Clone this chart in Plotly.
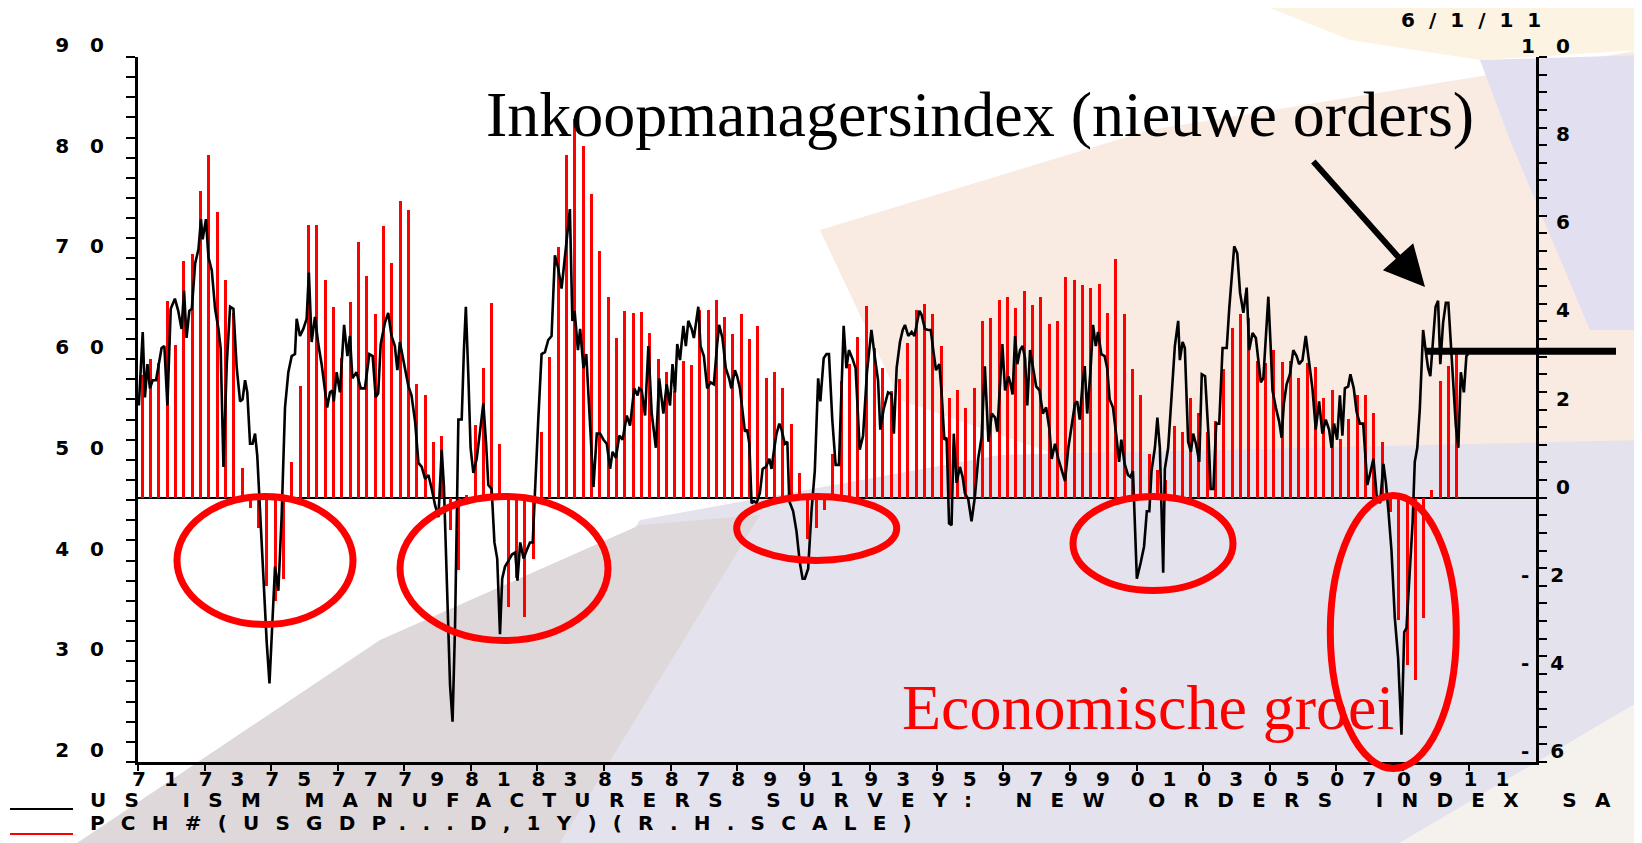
import plotly.graph_objects as go

# ------------------------------------------------------------------ data
# Real GDP, % change on a year earlier, quarterly from 1971Q1 (right scale)
gdp_first_year = 1971
gdp_growth = [
    2.79, 3.15, 3.06, 4.46, 3.47, 5.36, 5.54, 6.96, 7.77, 6.49,
    4.93, 4.19, 0.68, -0.23, -0.68, -2.00, -2.34, -1.85, 0.81, 2.54,
    6.19, 6.19, 4.93, 4.32, 3.18, 4.44, 5.81, 5.03, 4.17, 6.17,
    5.32, 6.74, 6.53, 2.59, 2.32, 1.26, 1.41, -0.74, -1.64, 0.05,
    1.64, 2.95, 4.41, 1.22, -2.48, -1.82, -2.70, -1.40, 1.49, 3.20,
    5.69, 7.77, 8.60, 7.97, 6.89, 5.59, 4.55, 3.63, 4.23, 4.19,
    4.22, 3.74, 3.14, 2.86, 2.43, 3.11, 3.00, 4.26, 4.25, 4.48,
    4.10, 3.71, 4.17, 3.60, 3.89, 2.72, 2.86, 2.48, 1.67, 0.56,
    -0.95, -0.68, -0.27, 1.00, 2.64, 3.04, 3.65, 4.34, 3.40, 2.95,
    2.41, 2.70, 3.51, 4.25, 4.39, 4.17, 3.44, 2.25, 2.45, 2.03,
    2.48, 4.01, 4.07, 4.48, 4.55, 4.30, 4.70, 4.37, 4.55, 3.95,
    4.01, 5.00, 4.95, 4.82, 4.76, 4.84, 4.19, 5.41, 4.17, 2.93,
    2.32, 1.00, 0.63, 0.41, 1.62, 1.49, 2.27, 1.92, 1.49, 1.74,
    2.93, 3.85, 4.16, 4.07, 3.11, 3.05, 3.35, 3.08, 3.11, 2.72,
    3.06, 2.97, 2.25, 2.45, 1.33, 1.78, 2.34, 2.32, 1.92, 1.26,
    -0.32, -2.77, -3.80, -4.13, -2.73, 0.18, 2.64, 2.99, 3.27,
]

# ISM new orders index (left scale): months after Jan 1971 and value, as read
ism_month = [
    0.3, 1.7, 2.5, 3.4, 4.3, 5.3, 6.5, 7.7, 8.5, 9.5,
    10.6, 11.8, 13.3, 14.5, 15.7, 16.6, 17.5, 18.5, 19.4, 20.6,
    21.8, 22.7, 23.3, 24.5, 25.4, 26.6, 27.8, 29.0, 29.8, 30.8,
    32.0, 33.2, 34.4, 35.6, 36.8, 37.7, 38.6, 39.4, 40.4, 41.3,
    42.2, 43.0, 44.0, 45.2, 46.4, 47.4, 48.2, 49.4, 50.6, 51.8,
    53.0, 54.2, 55.4, 56.6, 57.2, 58.4, 59.6, 60.8, 61.6, 62.6,
    63.8, 65.0, 66.2, 67.0, 68.2, 69.2, 70.0, 70.6, 71.6, 72.8,
    74.3, 75.5, 76.4, 77.3, 78.8, 80.3, 81.8, 83.4, 84.6, 85.7,
    86.6, 87.5, 89.0, 90.2,
    91.4, 92.6, 93.5, 94.4, 95.6, 96.6, 97.5, 98.6, 99.9, 101.1,
    102.3, 103.5, 104.7, 105.9, 107.1, 108.3, 109.5, 110.3, 111.3, 112.5,
    113.4, 114.3, 115.5, 116.7, 117.5, 118.2, 119.1, 119.9, 120.9, 122.1,
    123.3, 124.5, 125.5, 126.3, 127.5, 128.5, 129.5, 130.5, 131.3, 132.3,
    133.6, 134.8, 136.0, 136.8, 137.8, 139.0, 140.1, 141.3, 142.3, 143.1,
    144.3, 145.5, 146.7, 147.9, 149.1, 150.3, 151.5, 152.7, 153.5, 154.5,
    155.7, 156.6, 157.4, 158.6, 159.4, 160.6, 161.6, 162.8, 164.2, 165.4,
    166.6, 167.8, 169.0, 170.2, 171.1, 172.3, 173.5, 174.7, 176.2, 177.4,
    178.9, 180.1,
    180.7, 181.6, 182.8, 184.0, 185.2, 186.7, 187.9, 189.4, 190.6, 191.8,
    192.7, 193.6, 194.4, 195.4, 196.6, 197.5, 198.4, 199.6, 200.4, 202.0,
    202.8, 204.0, 205.2, 206.4, 207.6, 208.8, 209.5, 210.7, 211.9, 213.1,
    213.9, 215.2, 216.0, 217.0, 217.9, 218.8, 219.6, 220.4, 221.2, 222.1,
    223.0, 224.2, 225.2, 226.4, 227.6, 228.4, 229.3, 230.2, 231.2, 232.0,
    233.2, 234.1, 234.8, 236.2, 237.4, 238.6, 239.6, 240.4, 241.6, 242.8,
    244.0, 245.2, 246.0, 247.2, 248.2, 249.1, 250.3, 251.5, 252.7, 253.6,
    254.4, 255.4, 256.3, 257.5, 258.7, 260.2, 261.4, 262.8, 264.4, 265.6,
    266.8, 267.6, 268.8, 270.4,
    271.7, 272.5, 273.5, 274.7, 275.7, 276.5, 277.7, 278.9, 279.9, 280.7,
    281.7, 282.5, 283.7, 284.9, 285.8, 286.7, 287.7, 288.9, 289.7, 290.7,
    291.5, 292.4, 293.3, 294.1, 295.1, 296.3, 297.3, 298.1, 299.3, 300.5,
    301.7, 302.9, 304.1, 305.3, 306.6, 307.8, 309.0, 309.8, 310.8, 311.6,
    312.6, 313.8, 314.6, 315.3, 316.2, 317.0, 318.0, 318.9, 319.8, 320.6,
    321.6, 322.6, 323.8, 325.0, 326.2, 327.4, 328.6, 329.4, 330.6, 331.8,
    333.0, 334.2, 335.4, 336.6, 337.8, 338.6, 339.5, 340.5, 341.3, 342.2,
    343.4, 344.3, 345.3, 346.1, 347.3, 348.5, 349.4, 350.3, 351.5, 352.7,
    353.7, 354.5, 355.7, 356.9, 357.8, 358.7, 359.3, 360.1,
    361.5, 362.7, 363.7, 364.6, 365.4, 366.6, 367.5, 368.4, 369.6, 370.2,
    371.4, 372.6, 373.8, 375.0, 375.6, 376.6, 377.4, 378.6, 379.6, 380.4,
    381.4, 382.6, 383.5, 384.7, 385.9, 386.7, 387.7, 388.7, 389.8, 391.0,
    392.5, 393.4, 394.3, 395.2, 396.3, 397.3, 398.5, 399.7, 400.6, 401.8,
    403.0, 403.9, 404.8, 405.7, 406.6, 407.5, 408.3, 409.0, 410.2, 411.4,
    412.3, 413.1, 414.1, 415.3, 416.5, 417.7, 418.6, 419.8, 421.0, 422.2,
    423.4, 424.6, 425.8, 427.0, 428.2, 429.4, 430.3, 431.2, 432.3, 433.3,
    434.2, 435.1, 436.3, 437.1, 438.3, 439.3, 440.5, 441.7, 443.2, 444.4,
    445.4, 446.6, 447.8, 449.0, 449.9, 450.8,
    451.9, 453.1, 454.3, 455.5, 456.5, 457.3, 458.3, 459.5, 460.3, 461.2,
    462.1, 463.3, 464.3, 465.1, 465.9, 466.9, 467.8, 468.7, 469.5, 470.5,
    471.5, 472.4, 473.3, 474.1, 475.1, 476.0, 476.9, 478.0, 478.9, 479.5,
]
ism_value = [
    55.4, 62.7, 56.2, 59.5, 57.1, 57.9, 57.9, 59.9, 61.1, 61.3,
    55.4, 65.0, 66.0, 64.8, 63.0, 66.8, 62.1, 64.8, 65.0, 69.5,
    70.9, 73.9, 71.9, 73.9, 70.1, 68.8, 65.0, 63.0, 61.1, 49.3,
    59.5, 65.2, 65.0, 59.1, 55.8, 56.0, 57.9, 56.7, 51.6, 51.6,
    52.6, 50.4, 44.9, 37.4, 31.9, 27.8, 31.9, 39.4, 37.0, 44.5,
    55.2, 58.7, 60.3, 60.5, 64.0, 62.3, 63.0, 64.0, 68.6, 61.7,
    64.2, 61.5, 59.5, 57.9, 55.2, 56.7, 56.9, 55.8, 58.7, 56.7,
    63.4, 60.3, 62.3, 58.1, 58.7, 57.1, 57.1, 60.5, 60.3, 56.2,
    56.6, 61.5, 63.6, 64.6,
    62.3, 61.3, 58.9, 61.7, 59.9, 58.3, 57.3, 56.4, 53.8, 49.7,
    49.3, 48.1, 48.5, 47.1, 45.5, 44.3, 51.0, 47.3, 37.4, 27.6,
    24.0, 33.5, 54.0, 54.0, 60.9, 65.2, 58.3, 51.2, 48.7, 50.1,
    52.8, 55.6, 51.6, 47.5, 47.1, 41.8, 40.2, 32.7, 38.2, 39.4,
    40.0, 40.6, 40.8, 38.0, 41.8, 40.2, 41.0, 41.8, 41.8, 46.1,
    54.0, 60.5, 60.7, 61.9, 62.3, 70.3, 69.0, 67.0, 69.4, 71.7,
    74.9, 63.8, 64.8, 60.9, 63.0, 59.1, 60.5, 54.0, 47.3, 52.6,
    52.6, 52.0, 51.6, 49.1, 50.8, 50.2, 52.4, 52.0, 54.4, 53.4,
    57.1, 56.4,
    57.1, 56.9, 54.4, 61.3, 54.6, 51.2, 58.1, 54.6, 57.5, 55.4,
    59.5, 56.7, 61.5, 59.9, 63.3, 61.3, 63.8, 63.0, 62.1, 65.2,
    61.3, 60.3, 57.1, 57.7, 57.5, 61.5, 63.4, 62.1, 59.1, 58.1,
    57.1, 58.9, 58.3, 57.1, 54.8, 52.8, 53.0, 51.6, 45.7, 45.9,
    45.7, 46.7, 49.1, 49.3, 50.1, 49.1, 51.0, 52.6, 53.6, 53.0,
    51.6, 51.8, 45.9, 44.9, 42.9, 39.8, 38.2, 38.2, 39.2, 44.9,
    48.9, 58.1, 55.8, 60.1, 60.5, 60.5, 54.0, 49.5, 49.5, 57.1,
    63.3, 59.1, 60.9, 60.1, 59.1, 51.0, 52.4, 58.7, 62.9, 60.3,
    57.9, 53.0, 55.0, 56.7,
    56.5, 52.6, 59.1, 61.7, 62.9, 63.4, 62.3, 62.7, 62.3, 63.4,
    64.8, 64.4, 63.0, 62.9, 62.9, 60.9, 58.9, 59.5, 56.7, 52.0,
    52.2, 43.7, 43.5, 52.6, 47.7, 49.3, 48.3, 46.7, 46.1, 43.9,
    46.3, 50.1, 52.2, 59.3, 51.8, 54.6, 54.2, 52.8, 58.3, 61.5,
    56.9, 58.3, 57.5, 56.5, 62.3, 59.5, 60.9, 61.3, 60.1, 55.4,
    60.9, 59.1, 57.3, 56.9, 54.6, 55.2, 53.0, 50.1, 51.6, 50.1,
    48.9, 47.9, 51.2, 53.6, 55.6, 55.8, 54.0, 57.5, 59.3, 54.6,
    58.9, 63.4, 61.3, 62.7, 60.5, 60.3, 59.1, 56.0, 55.2, 52.4,
    49.8, 52.0, 49.6, 48.5, 48.3, 48.9, 43.7, 38.2,
    39.8, 41.4, 44.9, 44.9, 48.9, 51.2, 54.2, 51.2, 38.8, 49.1,
    51.2, 56.7, 61.3, 63.8, 59.9, 61.7, 61.1, 51.8, 50.8, 52.6,
    51.6, 49.8, 58.5, 58.3, 52.6, 47.1, 47.1, 53.6, 53.6, 61.1,
    61.1, 65.0, 68.0, 71.2, 70.5, 66.6, 64.6, 67.1, 60.9, 62.6,
    62.1, 59.7, 57.7, 58.1, 61.9, 66.2, 61.5, 56.9, 55.2, 53.8,
    52.2, 55.6, 57.5, 58.5, 60.9, 60.3, 59.5, 59.9, 62.3, 59.9,
    57.1, 53.0, 55.8, 52.6, 54.0, 53.0, 51.2, 53.6, 52.0, 56.4,
    52.4, 57.1, 57.3, 58.5, 57.1, 54.8, 53.6, 53.6, 47.5, 48.9,
    50.1, 46.3, 45.7, 49.6, 47.7, 44.9,
    41.0, 34.3, 30.3, 22.7, 32.9, 33.3, 38.2, 43.7, 49.8, 51.2,
    55.0, 62.9, 60.7, 59.1, 58.3, 62.1, 65.2, 65.8, 59.5, 63.6,
    65.6, 65.6, 61.5, 56.9, 53.4, 51.2, 58.7, 56.7, 60.3, 60.5,
]

x_tick_years = list(range(1971, 2012, 2))
x_tick_labels = ["71", "73", "75", "77", "79", "81", "83", "85", "87", "89", "91",
                 "93", "95", "97", "99", "01", "03", "05", "07", "09", "11"]
left_ticks = [20, 30, 40, 50, 60, 70, 80, 90]
right_ticks = [-6, -4, -2, 0, 2, 4, 6, 8, 10]
level_line_value = 3.32   # thick black reference level, right scale

title_text = "Inkoopmanagersindex (nieuwe orders)"
growth_text = "Economische groei"
date_text = "6/1/11"
legend_texts = ["US ISM MANUFACTURERS SURVEY: NEW ORDERS INDEX SA",
                "PCH#(USGDP...D,1Y)(R.H.SCALE)"]

# ------------------------------------------------------------------ geometry
# The page body adds an 8px offset; the figure is sized so that the plot area
# lands on screen at x 138..1536, y 57..762.
OFF = 8
W, H = 1642 - OFF, 843 - OFF
L, R, T, B = 138, 1536, 57, 762          # screen pixels


def px(X):
    return (X - L) / (R - L)


def py(Y):
    return (B - Y) / (B - T)


def wide(s, ls):
    return "<span style='letter-spacing:%gpx'>%s</span>" % (ls, s)


def poly(points):
    return "M " + " L ".join("%.4f,%.4f" % (px(a), py(b)) for a, b in points) + " Z"


AX_FONT = dict(family="DejaVu Sans", size=20, color="black", weight="bold")
LEG_FONT = dict(family="DejaVu Sans", size=20, color="black", weight="bold")
LS_Y = 21
LS_X = 18
FIG = "\u2007"

# ------------------------------------------------------------------ traces
bar_x = [gdp_first_year + (k + 0.5) / 4 for k in range(len(gdp_growth))]
ism_x = [1971 + m / 12 for m in ism_month]

fig = go.Figure()
fig.add_trace(go.Bar(x=bar_x, y=gdp_growth, width=0.09, yaxis="y",
                     marker=dict(color="#FF0000", line=dict(width=0)),
                     name=legend_texts[1]))
fig.add_trace(go.Scatter(x=ism_x, y=ism_value, yaxis="y2", mode="lines",
                         line=dict(color="black", width=2.6),
                         name=legend_texts[0]))

right_text = []
for v in right_ticks:
    s = str(v)
    if len(s) == 1:
        s = FIG + s
    right_text.append(wide(s, LS_Y))

# ------------------------------------------------------------------ shapes
shapes = []
bg = [
    ([(820, 230), (1150, 130), (1642, 50), (1642, 450), (1100, 470), (900, 400)], "#F9EAE2"),
    ([(640, 520), (1000, 455), (1642, 440), (1642, 700), (1400, 843), (430, 843)], "#E4E2ED"),
    ([(77, 843), (380, 640), (640, 525), (760, 515), (560, 843)], "#DED8DA"),
    ([(1480, 60), (1642, 55), (1642, 330), (1590, 330), (1510, 140)], "#E2E0F0"),
    ([(1250, 0), (1642, 0), (1642, 50), (1480, 60), (1350, 40)], "#FCF3E2"),
    ([(1400, 843), (1642, 700), (1642, 843)], "#F5F1EC"),
]
for pts, col in bg:
    shapes.append(dict(type="path", path=poly(pts), xref="paper", yref="paper",
                       fillcolor=col, line=dict(width=0), layer="below"))

ellipses = [(265, 560.5, 88, 64), (504, 568.5, 104, 72), (816.7, 528.4, 80, 32),
            (1153, 543.5, 80, 47), (1393.3, 632, 63, 136.5)]
for cx, cy, rx, ry in ellipses:
    shapes.append(dict(type="circle", xref="paper", yref="paper",
                       x0=px(cx - rx), x1=px(cx + rx), y0=py(cy + ry), y1=py(cy - ry),
                       line=dict(color="#FF0000", width=7), layer="above"))

shapes.append(dict(type="line", xref="paper", yref="y", x0=px(1425), x1=px(1616),
                   y0=level_line_value, y1=level_line_value,
                   line=dict(color="black", width=7)))
shapes.append(dict(type="line", xref="paper", yref="paper", x0=px(10), x1=px(73),
                   y0=py(809), y1=py(809), line=dict(color="black", width=2)))
shapes.append(dict(type="line", xref="paper", yref="paper", x0=px(10), x1=px(73),
                   y0=py(834), y1=py(834), line=dict(color="#FF0000", width=2)))

# ------------------------------------------------------------------ annotations
ann = [
    dict(text=title_text, x=px(980), y=py(114), xref="paper", yref="paper",
         showarrow=False, xanchor="center", yanchor="middle",
         font=dict(family="Liberation Serif", size=64, color="black")),
    dict(text=growth_text, x=px(1148), y=py(707), xref="paper", yref="paper",
         showarrow=False, xanchor="center", yanchor="middle",
         font=dict(family="Liberation Serif", size=64, color="#FF0000")),
    dict(text=wide(date_text, 14), x=px(1478), y=py(20), xref="paper", yref="paper",
         showarrow=False, xanchor="center", yanchor="middle", font=AX_FONT),
    dict(text=wide(legend_texts[0], 18.3), x=px(88), y=py(800), xref="paper", yref="paper",
         showarrow=False, xanchor="left", yanchor="middle", font=LEG_FONT),
    dict(text=wide(legend_texts[1], 16.2), x=px(88), y=py(823), xref="paper", yref="paper",
         showarrow=False, xanchor="left", yanchor="middle", font=LEG_FONT),
    dict(text="", x=px(1425), y=py(287), xref="paper", yref="paper",
         showarrow=True, ax=-113, ay=-127, arrowhead=2, arrowsize=1.35,
         arrowwidth=6, arrowcolor="black", standoff=0),
]

fig.update_layout(
    width=W, height=H, autosize=False,
    margin=dict(l=L - OFF, r=W - (R - OFF), t=T - OFF, b=H - (B - OFF), pad=0),
    paper_bgcolor="white", plot_bgcolor="rgba(0,0,0,0)",
    showlegend=False, bargap=0,
    shapes=shapes, annotations=ann,
    xaxis=dict(range=[1971, 2013], showgrid=False, zeroline=False,
               showline=True, linecolor="black", linewidth=3,
               ticks="outside", ticklen=6, tickwidth=2, tickcolor="black",
               tickvals=x_tick_years, ticktext=[wide(t, LS_X) for t in x_tick_labels],
               tickangle=0, tickfont=AX_FONT, ticklabelshift=26,
               ticklabelstandoff=-9),
    yaxis=dict(range=[-6, 10], side="right", anchor="x", showgrid=False,
               zeroline=True, zerolinecolor="black", zerolinewidth=1.5,
               showline=True, linecolor="black", linewidth=3,
               ticks="outside", ticklen=8, tickwidth=2, tickcolor="black",
               tickvals=right_ticks, ticktext=right_text, tickfont=AX_FONT,
               ticklabelshift=-11, ticklabelstandoff=-30,
               minor=dict(dtick=0.4, tick0=0, ticks="outside", ticklen=8,
                          tickwidth=2, tickcolor="black", showgrid=False)),
    yaxis2=dict(range=[20, 90], side="left", overlaying="y", anchor="x",
                showgrid=False, zeroline=False,
                showline=True, linecolor="black", linewidth=3,
                ticks="outside", ticklen=9, tickwidth=2, tickcolor="black",
                tickvals=left_ticks, ticktext=[wide(str(v), LS_Y) for v in left_ticks],
                tickfont=AX_FONT, ticklabelshift=-12, ticklabelstandoff=-3,
                minor=dict(dtick=2, tick0=20, ticks="outside", ticklen=9,
                           tickwidth=2, tickcolor="black", showgrid=False)),
)

fig.write_html("out.html")
